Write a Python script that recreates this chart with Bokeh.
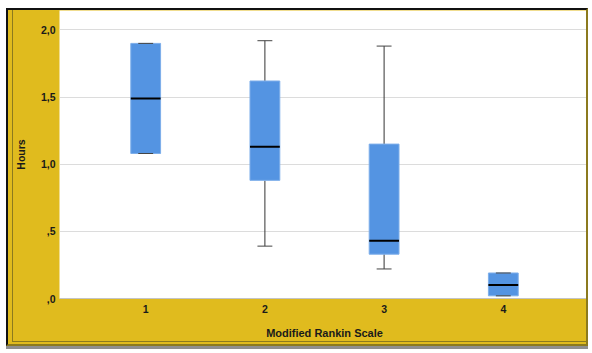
from bokeh.plotting import figure
from bokeh.models import Range1d, FixedTicker, ColumnDataSource
from bokeh.embed import file_html
from bokeh.resources import INLINE

# Hours by Modified Rankin Scale group (box plot statistics)
scale = ["1", "2", "3", "4"]
lower = [1.08, 0.39, 0.22, 0.02]
q1 = [1.08, 0.88, 0.33, 0.02]
median = [1.49, 1.13, 0.43, 0.10]
q3 = [1.90, 1.62, 1.15, 0.19]
upper = [1.90, 1.92, 1.88, 0.19]

y_ticks = [0, 0.5, 1.0, 1.5, 2.0]
y_tick_labels = [",0", ",5", "1,0", "1,5", "2,0"]

GOLD = "#E0BB1E"
OLIVE = "#8C7A1E"
BOX = "#5494E2"
FONT = "Liberation Sans"

BOX_W = 0.25
CAP_W = 0.125

xpos = list(range(1, len(scale) + 1))
src = ColumnDataSource(dict(
    x=xpos, lower=lower, q1=q1, median=median, q3=q3, upper=upper,
    bl=[x - BOX_W / 2 for x in xpos], br=[x + BOX_W / 2 for x in xpos],
    cl=[x - CAP_W / 2 for x in xpos], cr=[x + CAP_W / 2 for x in xpos],
))

p = figure(
    width=582, height=338,
    x_range=Range1d(0.277, 4.723),
    y_range=Range1d(0, 2.145),
    output_backend="svg", toolbar_location=None,
    min_border_left=51, min_border_right=1, min_border_top=0, min_border_bottom=50,
)
# gold panel with a dark frame and an inner olive rule, drawn by CSS on the host
p.border_fill_alpha = 0
p.background_fill_color = "white"
p.outline_line_color = None
p.styles = {
    "margin": "8px 0 0 6px",
    "background-color": GOLD,
    "border-left": "2px solid #111111",
    "border-top": "2px solid #111111",
    "border-right": f"2px solid {OLIVE}",
    "border-bottom": f"2px solid {OLIVE}",
    "box-shadow": f"inset 4px -2px 0 0 {GOLD}, inset 5px -3px 0 0 {OLIVE}, 0 3px 0 0 #8f8f8f",
}

# whiskers
p.segment(x0="x", y0="q3", x1="x", y1="upper", source=src, line_color="#333333", line_width=1)
p.segment(x0="x", y0="lower", x1="x", y1="q1", source=src, line_color="#333333", line_width=1)

# boxes
p.vbar(x="x", bottom="q1", top="q3", width=BOX_W, source=src,
       fill_color=BOX, line_color="#7DAEEA", line_width=1)

# caps
p.segment(x0="cl", y0="upper", x1="cr", y1="upper", source=src, line_color="#444444", line_width=1)
p.segment(x0="cl", y0="lower", x1="cr", y1="lower", source=src, line_color="#444444", line_width=1)

# medians
p.segment(x0="bl", y0="median", x1="br", y1="median", source=src, line_color="black", line_width=2)

# grid
p.xgrid.grid_line_color = None
p.ygrid.grid_line_color = "#DCDCDC"
p.ygrid.ticker = FixedTicker(ticks=y_ticks)

# axes
p.xaxis.ticker = FixedTicker(ticks=xpos)
p.xaxis.major_label_overrides = {x: s for x, s in zip(xpos, scale)}
p.yaxis.ticker = FixedTicker(ticks=y_ticks)
p.yaxis.major_label_overrides = {t: s for t, s in zip(y_ticks, y_tick_labels)}
p.yaxis.axis_label = "Hours"
p.xaxis.axis_label = "Modified Rankin Scale"
for ax in (p.xaxis[0], p.yaxis[0]):
    ax.major_tick_line_color = None
    ax.minor_tick_line_color = None
    ax.major_tick_out = 0
    ax.major_tick_in = 0
    ax.major_label_text_font = FONT
    ax.major_label_text_font_style = "bold"
    ax.major_label_text_font_size = "10.5px"
    ax.major_label_text_color = "#1a1a1a"
    ax.axis_label_text_font = FONT
    ax.axis_label_text_font_style = "bold"
    ax.axis_label_text_font_size = "10.5px"
    ax.axis_label_text_color = "#1a1a1a"
p.xaxis.axis_label_text_font_size = "11px"
p.yaxis.axis_line_color = None
p.xaxis.axis_line_color = "#C4C4C4"
p.yaxis.major_label_standoff = 4
p.yaxis.axis_label_standoff = 11
p.xaxis.major_label_standoff = 6
p.xaxis.axis_label_standoff = 11

open("out.html", "w").write(file_html(p, INLINE))
